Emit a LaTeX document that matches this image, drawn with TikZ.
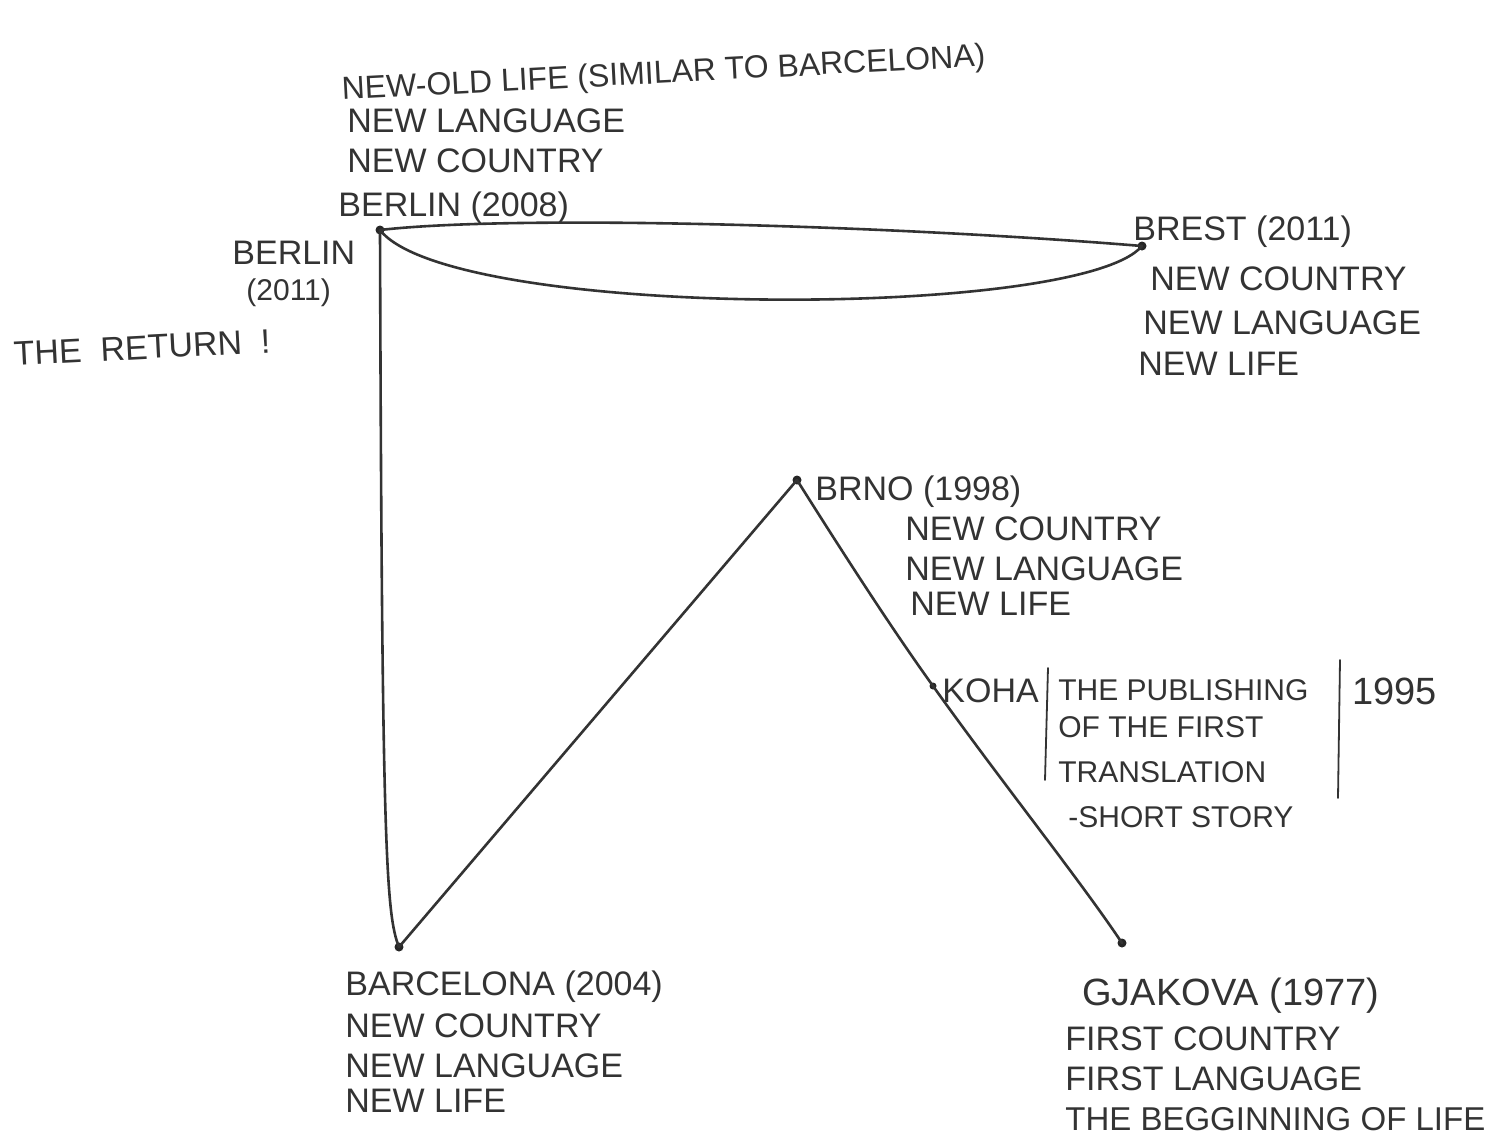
\documentclass[tikz,border=0pt]{standalone}
\usepackage{fontspec}
\setmainfont{Liberation Sans}
\begin{document}
\begin{tikzpicture}[x=0.5pt,y=-0.5pt,
 hw/.style={anchor=base west,inner sep=0pt,font=\fontsize{17}{20}\selectfont,text=black!80},
 small/.style={hw,font=\fontsize{15}{18}\selectfont},
 big/.style={hw,font=\fontsize{19}{23}\selectfont},
 pen/.style={line width=1.3pt,draw=black!80,line cap=round,line join=round},
 thinpen/.style={line width=0.9pt,draw=black!80,line cap=round},
 dot/.style={circle,fill=black!85,inner sep=0pt,minimum size=4.5pt}]
\useasboundingbox (0,0) rectangle (1496,1137);
\fill[white] (0,0) rectangle (1496,1137);

% points
\node[dot] (berlin) at (380,230) {};
\node[dot] (brest) at (1142,246) {};
\node[dot] (brno) at (797,480) {};
\node[dot] (barcelona) at (399,947) {};
\node[dot] (gjakova) at (1122,943) {};
\node[dot,minimum size=3.5pt] (koha) at (933,686) {};

% connectors
\draw[pen] (berlin.center) .. controls (520,214) and (900,226) .. (brest.center);
\draw[pen] (berlin.center) .. controls (450,320) and (1080,320) .. (brest.center);
\draw[pen] (berlin.center) .. controls (382,850) and (386,915) .. (barcelona.center);
\draw[pen] (barcelona.center) -- (brno.center);
\draw[pen] (brno.center) .. controls (860,580) and (900,640) .. (koha.center)
  .. controls (1000,780) and (1080,880) .. (gjakova.center);

% Berlin labels
\node[hw,font=\fontsize{16}{19}\selectfont,rotate=3] (t1) at (342,100) {NEW-OLD LIFE (SIMILAR TO BARCELONA)};
\node[hw] (t2) at (347,132) {NEW LANGUAGE};
\node[hw] (t3) at (347,172) {NEW COUNTRY};
\node[hw] (t4) at (338,216) {BERLIN (2008)};
\node[hw] (b1) at (232,264) {BERLIN};
\node[small] (b2) at (246,300) {(2011)};
\node[hw,rotate=3] (b3) at (14,366) {THE\ \ RETURN\ \ !};

% Brest labels
\node[hw] (r1) at (1133,240) {BREST (2011)};
\node[hw] (r2) at (1150,290) {NEW COUNTRY};
\node[hw] (r3) at (1143,334) {NEW LANGUAGE};
\node[hw] (r4) at (1138,375) {NEW LIFE};

% Brno labels
\node[hw] (n1) at (815,500) {BRNO (1998)};
\node[hw] (n2) at (905,540) {NEW COUNTRY};
\node[hw] (n3) at (905,580) {NEW LANGUAGE};
\node[hw] (n4) at (910,615) {NEW LIFE};

% Koha labels
\node[hw] (k0) at (942,702) {KOHA};
\node[small] (k1) at (1058,700) {THE PUBLISHING};
\node[small] (k2) at (1058,737) {OF THE FIRST};
\node[small] (k3) at (1058,782) {TRANSLATION};
\node[small] (k4) at (1068,827) {-SHORT STORY};
\node[big] (k5) at (1352,704) {1995};
\coordinate (kl1) at (1048,668);
\coordinate (kl2) at (1045,780);
\coordinate (kr1) at (1340,660);
\coordinate (kr2) at (1338,798);
\draw[thinpen] (kl1) -- (kl2);
\draw[thinpen] (kr1) -- (kr2);

% Barcelona labels
\node[hw] (c1) at (345,995) {BARCELONA (2004)};
\node[hw] (c2) at (345,1037) {NEW COUNTRY};
\node[hw] (c3) at (345,1077) {NEW LANGUAGE};
\node[hw] (c4) at (345,1112) {NEW LIFE};

% Gjakova labels
\node[big] (g1) at (1082,1005) {GJAKOVA (1977)};
\node[hw] (g2) at (1065,1050) {FIRST COUNTRY};
\node[hw] (g3) at (1065,1090) {FIRST LANGUAGE};
\node[hw,font=\fontsize{16.5}{20}\selectfont] (g4) at (1065,1130) {THE BEGGINNING OF LIFE};
\end{tikzpicture}
\end{document}
